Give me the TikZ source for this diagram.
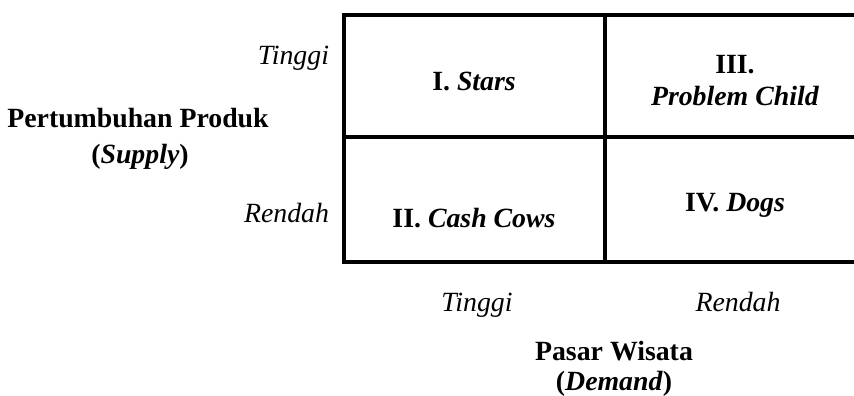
\documentclass[tikz,border=0pt]{standalone}
\usepackage{fontspec}
\setmainfont{Liberation Serif}
\begin{document}
\begin{tikzpicture}[x=1pt,y=-1pt,
  every node/.style={inner sep=0pt, outer sep=0pt, font=\fontsize{27.8}{33}\selectfont},
  cell/.style={draw=black, line width=3.6pt, rectangle, anchor=north west},
  lbl/.style={anchor=base},
  side/.style={anchor=base east, font=\fontsize{27.8}{33}\selectfont\itshape},
  axis/.style={anchor=base, font=\fontsize{27.8}{33}\selectfont\itshape},
  title/.style={anchor=base, font=\fontsize{27.8}{33}\selectfont\bfseries}]
\useasboundingbox (0,0) rectangle (854,396);
% the four quadrants of the matrix
\node[cell, minimum width=261pt, minimum height=122pt] (q1) at (344,15) {};
\node[cell, minimum width=261pt, minimum height=122pt] (q3) at (605,15) {};
\node[cell, minimum width=261pt, minimum height=125pt] (q2) at (344,137) {};
\node[cell, minimum width=261pt, minimum height=125pt] (q4) at (605,137) {};
% quadrant labels
\node[lbl] (stars) at (474,91) {\textbf{I.} \textbf{\textit{Stars}}};
\node[lbl] (pc1) at (735,74) {\textbf{III.}};
\node[lbl] (pc2) at (735,106) {\textbf{\textit{Problem Child}}};
\node[lbl] (cows) at (474,227) {\textbf{II.} \textbf{\textit{Cash Cows}}};
\node[lbl] (dogs) at (735,211) {\textbf{IV.} \textbf{\textit{Dogs}}};
% vertical axis
\node[side] (yhi) at (329,65) {Tinggi};
\node[side] (ylo) at (329,222) {Rendah};
\node[title] (ya) at (138,127) {Pertumbuhan Produk};
\node[title] (yb) at (140,163) {(\textit{Supply})};
% horizontal axis
\node[axis] (xhi) at (477,311) {Tinggi};
\node[axis] (xlo) at (738,311) {Rendah};
\node[title] (xa) at (614,360) {Pasar Wisata};
\node[title] (xb) at (614,390) {(\textit{Demand})};
\end{tikzpicture}
\end{document}
